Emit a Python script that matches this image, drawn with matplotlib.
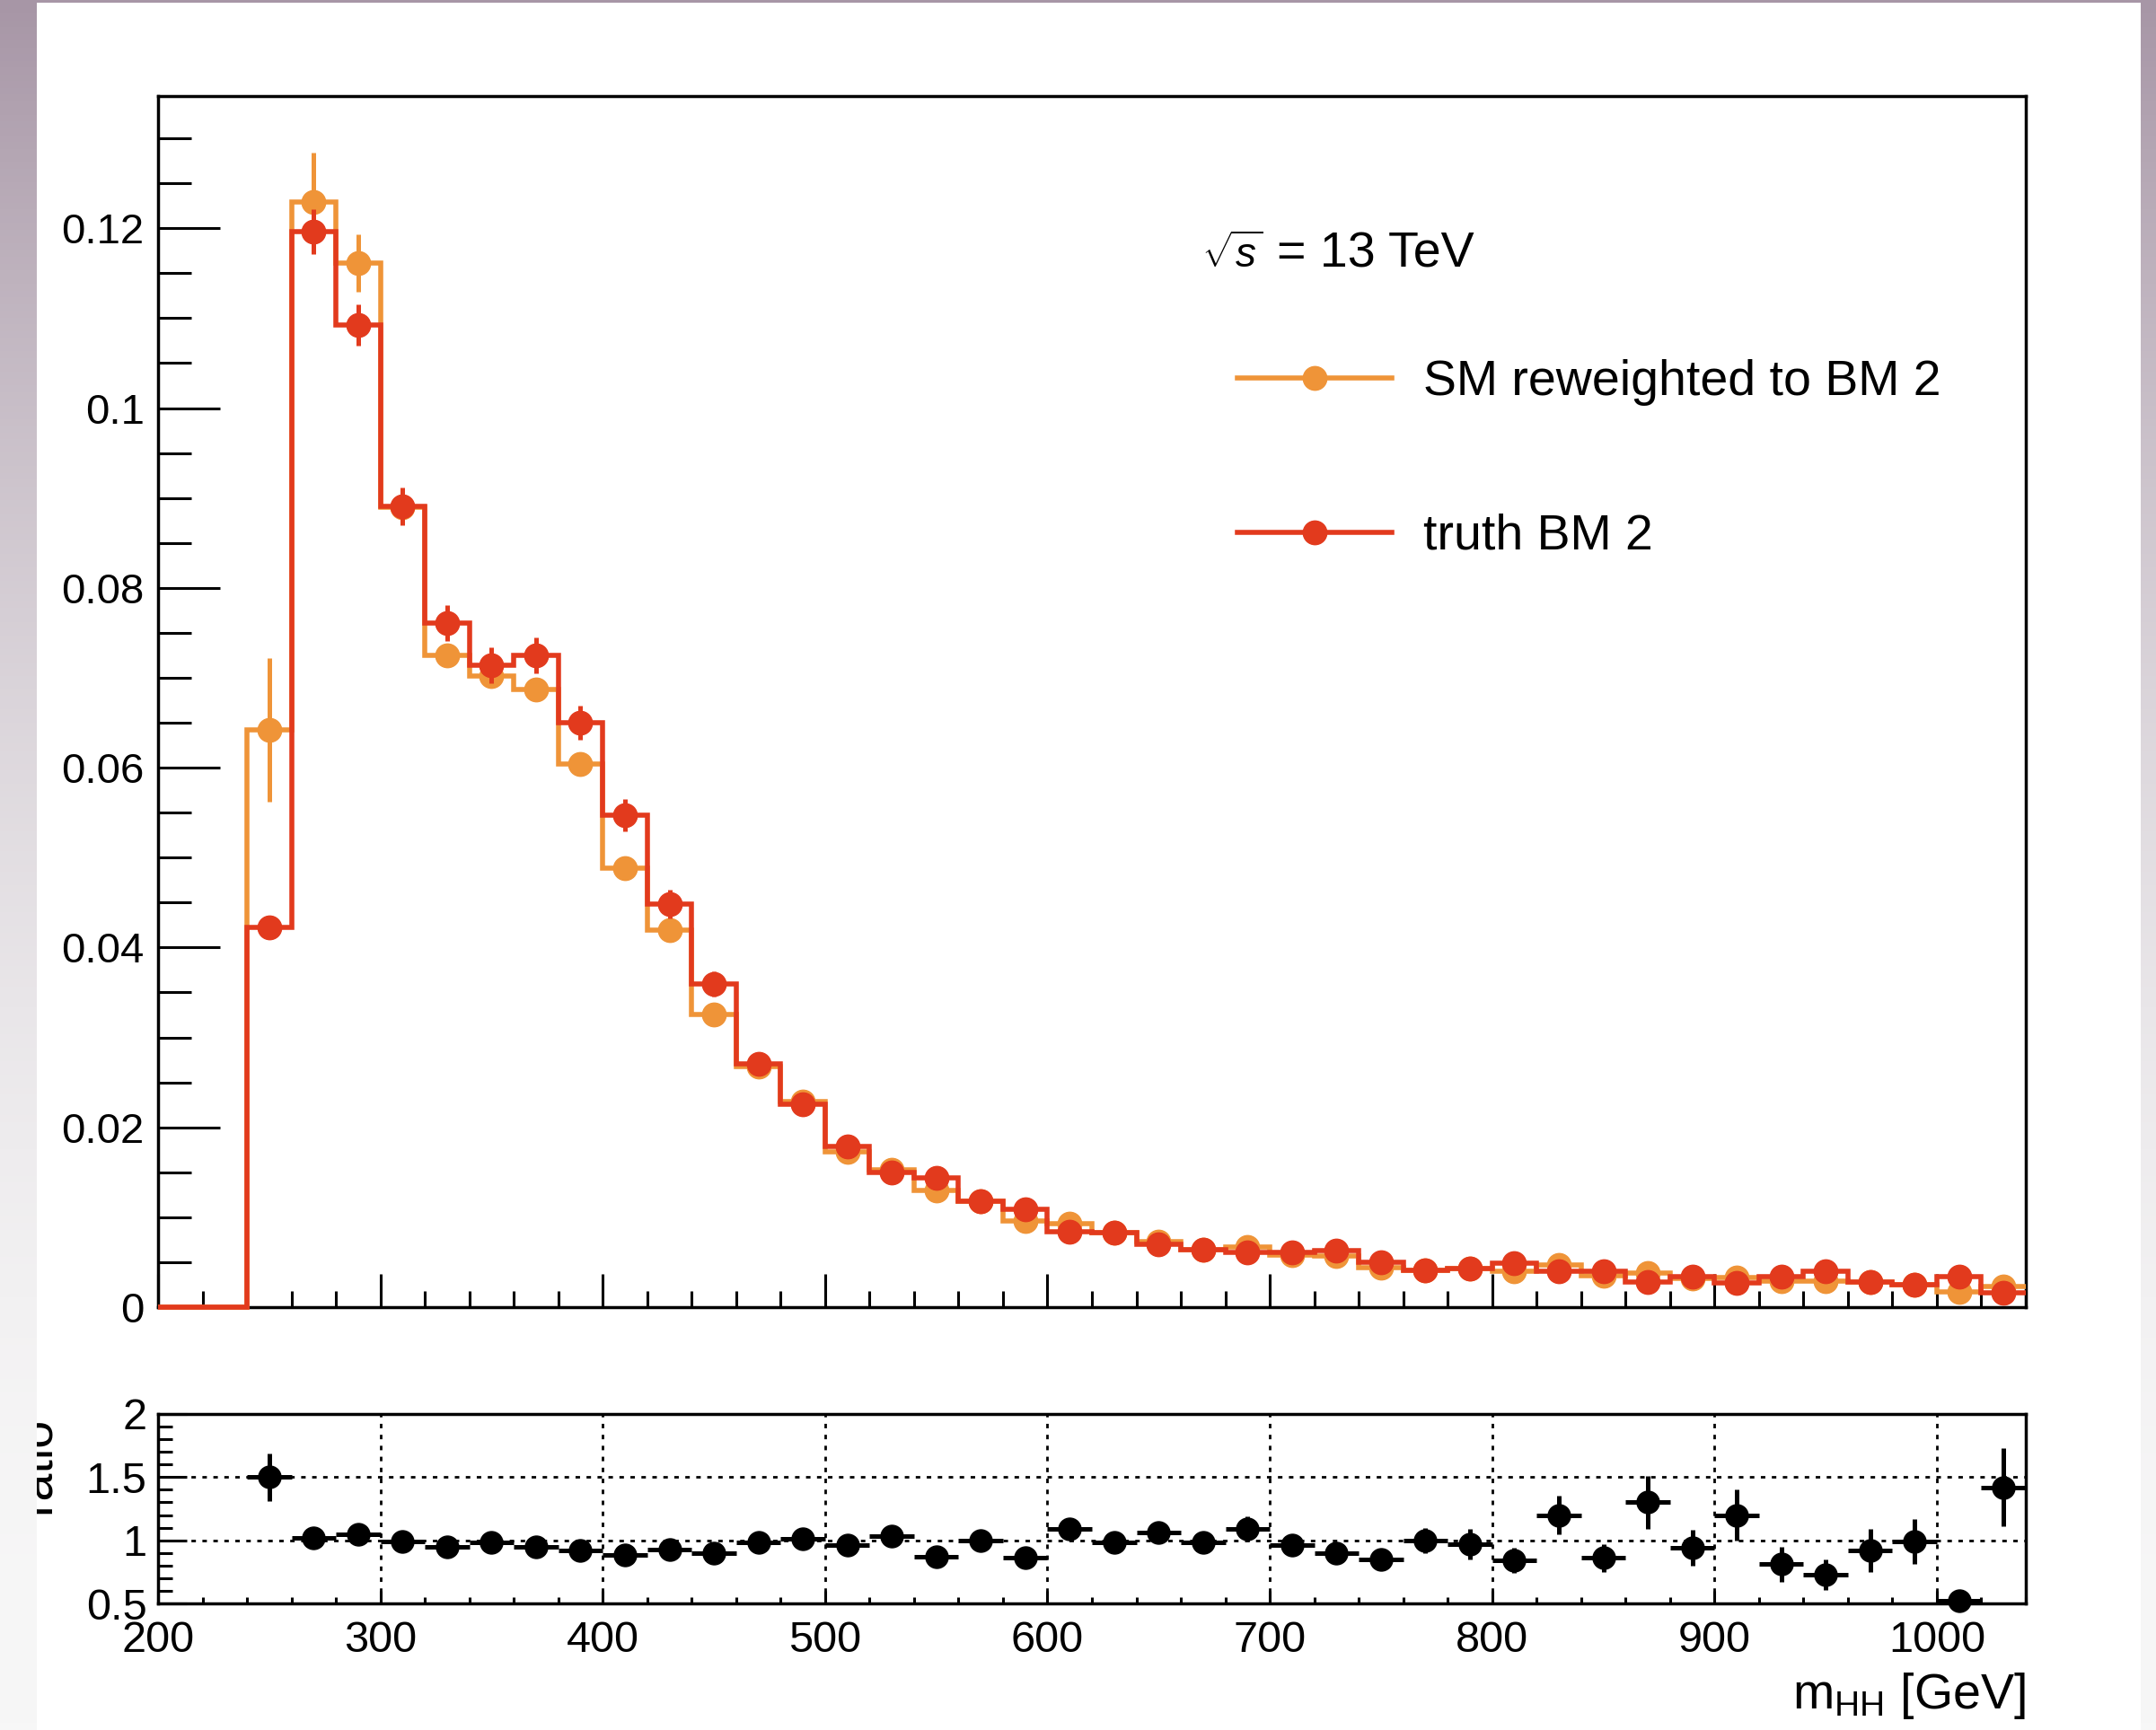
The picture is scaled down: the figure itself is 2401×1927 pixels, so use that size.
import numpy as np
import matplotlib
matplotlib.use("Agg")
import matplotlib.pyplot as plt
from matplotlib.lines import Line2D
from matplotlib.ticker import MultipleLocator, FixedLocator, FixedFormatter

plt.rcParams['font.family'] = ['Liberation Sans', 'DejaVu Sans']
plt.rcParams['mathtext.fontset'] = 'custom'
plt.rcParams['mathtext.rm'] = 'Liberation Sans'
plt.rcParams['mathtext.it'] = 'Liberation Sans:italic'
plt.rcParams['mathtext.bf'] = 'Liberation Sans:bold'

# ---------------- data ----------------
bin_edges = [200, 220, 240, 260, 280, 300, 320, 340, 360, 380, 400, 420, 440, 460,
             480, 500, 520, 540, 560, 580, 600, 620, 640, 660, 680, 700, 720, 740,
             760, 780, 800, 820, 840, 860, 880, 900, 920, 940, 960, 980, 1000, 1020, 1040]
bin_centers = [250, 270, 290, 310, 330, 350, 370, 390, 410, 430, 450, 470, 490, 510,
               530, 550, 570, 590, 610, 630, 650, 670, 690, 710, 730, 750, 770, 790,
               810, 830, 850, 870, 890, 910, 930, 950, 970, 990, 1010, 1030]

sm_reweighted = [0.0642, 0.1229, 0.1161, 0.0890, 0.0725, 0.0702, 0.0687, 0.0604, 0.0488, 0.0419,
                 0.0326, 0.0268, 0.0229, 0.0173, 0.0153, 0.0130, 0.0118, 0.0096, 0.0093, 0.0083,
                 0.0073, 0.0064, 0.0067, 0.0058, 0.0057, 0.0044, 0.0041, 0.0043, 0.0040, 0.0047,
                 0.0035, 0.0038, 0.0032, 0.0033, 0.0029, 0.0029, 0.0028, 0.0025, 0.0017, 0.0023]
sm_reweighted_err = [0.0080, 0.0055, 0.0032, 0.0012, 0.0011, 0.0011, 0.0011, 0.0010, 0.0010, 0.0009,
                     0.0008, 0.0008, 0.0007, 0.0007, 0.0006, 0.0006, 0.0006, 0.0005, 0.0005, 0.0005,
                     0.0005, 0.0004, 0.0004, 0.0004, 0.0004, 0.0004, 0.0004, 0.0004, 0.0004, 0.0004,
                     0.0004, 0.0004, 0.0004, 0.0004, 0.0004, 0.0004, 0.0004, 0.0004, 0.0004, 0.0004]
truth = [0.0422, 0.1196, 0.1092, 0.0891, 0.0761, 0.0714, 0.0725, 0.0650, 0.0547, 0.0448,
         0.0359, 0.0271, 0.0226, 0.0179, 0.0150, 0.0144, 0.0118, 0.0109, 0.0084, 0.0083,
         0.0070, 0.0064, 0.0061, 0.0061, 0.0063, 0.0050, 0.0041, 0.0043, 0.0049, 0.0040,
         0.0040, 0.0028, 0.0034, 0.0027, 0.0034, 0.0040, 0.0028, 0.0025, 0.0034, 0.0016]
truth_err = [0.0012, 0.0025, 0.0023, 0.0021, 0.0020, 0.0020, 0.0020, 0.0019, 0.0018, 0.0016,
             0.0014, 0.0012, 0.0011, 0.0010, 0.0009, 0.0009, 0.0008, 0.0008, 0.0007, 0.0007,
             0.0006, 0.0006, 0.0006, 0.0006, 0.0006, 0.0005, 0.0005, 0.0005, 0.0005, 0.0005,
             0.0005, 0.0004, 0.0004, 0.0004, 0.0004, 0.0004, 0.0004, 0.0004, 0.0004, 0.0004]
ratio = [1.50, 1.02, 1.05, 0.99, 0.95, 0.98, 0.945, 0.92, 0.886, 0.93,
         0.90, 0.98, 1.015, 0.96, 1.03, 0.87, 1.00, 0.86, 1.09, 0.98,
         1.06, 0.98, 1.09, 0.96, 0.90, 0.85, 1.00, 0.97, 0.84, 1.20,
         0.86, 1.30, 0.94, 1.20, 0.81, 0.73, 0.92, 0.99, 0.52, 1.42]
ratio_err = [0.19, 0.05, 0.05, 0.04, 0.04, 0.04, 0.04, 0.04, 0.04, 0.05,
             0.05, 0.05, 0.06, 0.06, 0.07, 0.06, 0.07, 0.07, 0.08, 0.07,
             0.08, 0.08, 0.10, 0.08, 0.08, 0.08, 0.10, 0.12, 0.10, 0.15,
             0.11, 0.21, 0.14, 0.20, 0.14, 0.12, 0.17, 0.18, 0.07, 0.31]
empty_bins = [0.0, 0.0]   # 200-240 GeV: no entries

label_sm = "SM reweighted to BM 2"
label_truth = "truth BM 2"
y_ticks = [0, 0.02, 0.04, 0.06, 0.08, 0.10, 0.12]
y_tick_labels = ['0', '0.02', '0.04', '0.06', '0.08', '0.1', '0.12']
x_ticks = [200, 300, 400, 500, 600, 700, 800, 900, 1000]
x_tick_labels = ['200', '300', '400', '500', '600', '700', '800', '900', '1000']
r_ticks = [0.5, 1.0, 1.5, 2.0]
r_tick_labels = ['0.5', '1', '1.5', '2']

ORANGE = '#ef9438'
RED = '#e23a1d'

W, H = 2401, 1927
fig = plt.figure(figsize=(W / 100, H / 100), dpi=100)
fig.patch.set_facecolor('white')

def fx(px):
    return px / W

def fy(py):
    return 1 - py / H

# ---------------- main pad ----------------
ax = fig.add_axes([fx(176), fy(1456), fx(2256) - fx(176), fy(107) - fy(1456)])
ax.set_xlim(200, 1040)
ax.set_ylim(0, 0.1347)

sm_vals = empty_bins + sm_reweighted
tr_vals = empty_bins + truth
ax.stairs(sm_vals, bin_edges, baseline=None, color=ORANGE, lw=4, zorder=3, clip_on=False)
ax.errorbar(bin_centers, sm_reweighted, yerr=sm_reweighted_err, fmt='o', color=ORANGE,
            ms=19, elinewidth=3.6, capsize=0, zorder=4)
ax.stairs(tr_vals, bin_edges, baseline=None, color=RED, lw=4, zorder=5, clip_on=False)
ax.errorbar(bin_centers, truth, yerr=truth_err, fmt='o', color=RED,
            ms=19, elinewidth=3.6, capsize=0, zorder=6)

ax.yaxis.set_major_locator(FixedLocator(y_ticks))
ax.yaxis.set_major_formatter(FixedFormatter(y_tick_labels))
ax.yaxis.set_minor_locator(MultipleLocator(0.005))
ax.xaxis.set_major_locator(FixedLocator(x_ticks))
ax.xaxis.set_minor_locator(MultipleLocator(20))
ax.tick_params(axis='y', which='major', direction='in', length=50, width=2.2,
               labelsize=34, pad=11, left=True, right=False)
ax.tick_params(axis='y', which='minor', direction='in', length=26.6, width=2.2,
               left=True, right=False)
ax.tick_params(axis='x', which='major', direction='in', length=26.6, width=2.2,
               labelbottom=False, top=False)
ax.tick_params(axis='x', which='minor', direction='in', length=13, width=2.2, top=False)
for s in ax.spines.values():
    s.set_linewidth(2.5)

handles = [Line2D([], [], color=ORANGE, lw=4, marker='o', ms=19),
           Line2D([], [], color=RED, lw=4, marker='o', ms=19)]
ax.legend(handles, [label_sm, label_truth], loc='upper left',
          bbox_to_anchor=(fx(1378), fy(400)), bbox_transform=fig.transFigure,
          frameon=False, fontsize=40, borderpad=0, borderaxespad=0,
          handlelength=3.09, handletextpad=0.63, labelspacing=2.16)

fig.text(fx(1338), fy(298), r'$\sqrt{s}$', fontsize=33, ha='left', va='baseline')
fig.text(fx(1422), fy(298), '= 13 TeV', fontsize=40, ha='left', va='baseline')

# ---------------- ratio pad ----------------
axr = fig.add_axes([fx(176), fy(1786), fx(2256) - fx(176), fy(1575) - fy(1786)])
axr.set_xlim(200, 1040)
axr.set_ylim(0.5, 2.0)
axr.errorbar(bin_centers, ratio, yerr=ratio_err, xerr=10, fmt='o', color='black',
             ms=18, elinewidth=3.6, capsize=0, zorder=4, clip_on=False)
axr.xaxis.set_major_locator(FixedLocator(x_ticks))
axr.xaxis.set_major_formatter(FixedFormatter(x_tick_labels))
axr.xaxis.set_minor_locator(MultipleLocator(20))
axr.yaxis.set_major_locator(FixedLocator(r_ticks))
axr.yaxis.set_major_formatter(FixedFormatter(r_tick_labels))
axr.yaxis.set_minor_locator(MultipleLocator(0.1))
axr.tick_params(axis='y', which='major', direction='in', length=23, width=2.2,
                labelsize=35, pad=9, right=False)
axr.tick_params(axis='y', which='minor', direction='in', length=11.5, width=2.2, right=False)
axr.tick_params(axis='x', which='major', direction='in', length=10, width=2.2,
                labelsize=35, pad=14, top=False)
axr.tick_params(axis='x', which='minor', direction='in', length=5, width=2.2, top=False)
axr.grid(True, which='major', color='black', lw=2.0, ls=(0, (1.8, 2.6)))
axr.set_axisbelow(True)
for s in axr.spines.values():
    s.set_linewidth(2.5)
    s.set_zorder(3)

fig.text(fx(2256), fy(1903), r'm$_{\mathrm{HH}}$ [GeV]', fontsize=40,
         ha='right', va='baseline')
fig.text(fx(67), fy(1632), 'ratio', fontsize=40, rotation=90, ha='right', va='center')

# ---------------- screenshot window edges ----------------
n = 256
t = np.linspace(0, 1, n)[:, None]
top_c = np.array([167, 150, 166]) / 255.0
bot_c = np.array([247, 247, 247]) / 255.0
grad = bot_c + (top_c - bot_c) * (1 - t) ** 2
grad = grad[:, None, :]
for x0, x1 in [(0, 41), (2384, 2401)]:
    sa = fig.add_axes([fx(x0), 0, fx(x1) - fx(x0), 1], zorder=10)
    sa.imshow(grad, aspect='auto', extent=(0, 1, 0, 1))
    sa.set_axis_off()
ta = fig.add_axes([0, fy(3), 1, fy(0) - fy(3)], zorder=10)
ta.set_facecolor(top_c)
ta.set_xticks([]); ta.set_yticks([])
for s in ta.spines.values():
    s.set_visible(False)

fig.savefig('out.png', dpi=100, facecolor=fig.get_facecolor())
